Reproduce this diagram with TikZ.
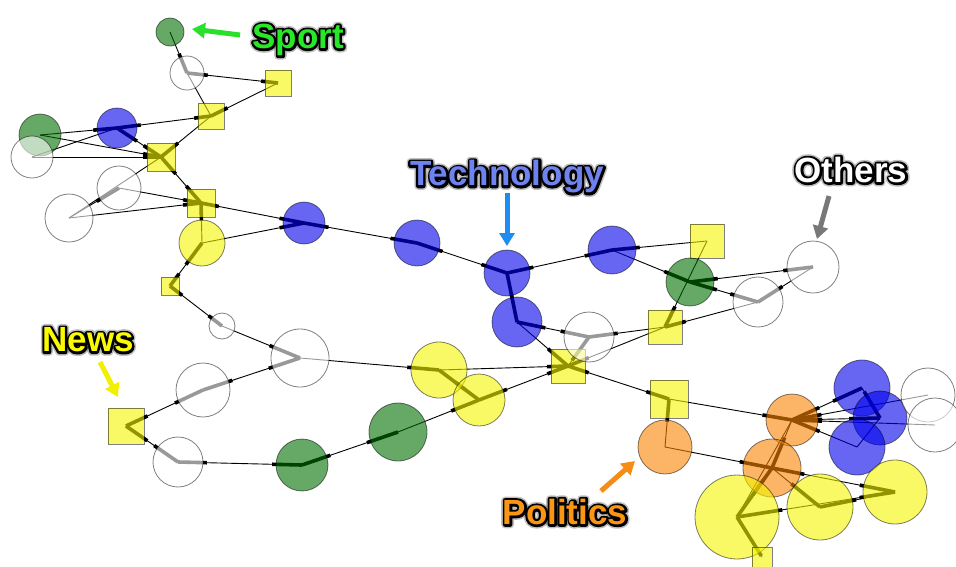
\documentclass[tikz,border=0pt]{standalone}
\usepackage{fontspec}
\newfontface\lblfont{Liberation Sans Bold}
\newfontface\lblrim{Liberation Sans Bold}[FakeBold=13]
\newfontface\lblhalo{Liberation Sans Bold}[FakeBold=22]
\usetikzlibrary{calc,arrows.meta}
\pgfdeclarelayer{bg}
\pgfdeclarelayer{edges}
\pgfsetlayers{bg,edges,main}

\definecolor{cgreen}{RGB}{0,110,0}
\definecolor{cblue}{RGB}{0,0,235}
\definecolor{cyellow}{RGB}{245,245,0}
\definecolor{corange}{RGB}{250,130,0}
\definecolor{tgreen}{RGB}{40,230,40}
\definecolor{tblue}{RGB}{110,130,240}
\definecolor{tyellow}{RGB}{250,250,0}
\definecolor{torange}{RGB}{250,150,20}
\definecolor{agreen}{RGB}{40,225,40}
\definecolor{ablue}{RGB}{30,140,240}
\definecolor{agrey}{RGB}{120,120,120}
\definecolor{ayellow}{RGB}{240,240,0}
\definecolor{aorange}{RGB}{245,140,20}

\tikzset{
  nd/.style={draw=black, draw opacity=0.5, line width=0.8pt, fill opacity=0.6, inner sep=0pt},
  circ/.style={nd, circle, minimum size=#1},
  sq/.style={nd, rectangle, minimum size=#1},
  gn/.style={circ=#1, fill=cgreen},
  bn/.style={circ=#1, fill=cblue},
  yn/.style={circ=#1, fill=cyellow},
  on/.style={circ=#1, fill=corange},
  wn/.style={circ=#1, fill=white},
  ys/.style={sq=#1, fill=cyellow},
  thinedge/.style={draw=black, line width=0.9pt},
  stubline/.style={draw=black, line width=3.6pt},
  lbl/.style={font=\lblfont\fontsize{35}{35}\selectfont, inner sep=0pt},
  lblrimstyle/.style={font=\lblrim\fontsize{35}{35}\selectfont, inner sep=0pt, text=black},
  lblhalostyle/.style={font=\lblhalo\fontsize{35}{35}\selectfont, inner sep=0pt, text=black, text opacity=0.25},
  pointer/.style={line width=5pt, -{Triangle[length=13pt,width=15pt]}}
}

% round joins for the stroked rim of the glyphs
\newcommand\roundrim{\special{pdf:literal direct 1 j 1 J}}

% thick end piece of a connector inside node #1, pointing at node #2
\newcommand\stub[2]{%
  \path (#1) -- (#2) coordinate[pos=0] (stA);
  \draw[stubline] (#1.center) -- ($(stA)!-3.5pt!(#1.center)$);
}

% caption text with a dark rim and a soft halo
\newcommand\biglabel[4]{%
  \node[lblhalostyle] (#1halo) at (#2) {\roundrim#4};
  \node[lblrimstyle] (#1rim) at (#2) {\roundrim#4};
  \node[lbl, text=#3] (#1) at (#2) {#4};
}

\begin{document}
\begin{tikzpicture}[x=1pt, y=-1pt]
\begin{pgfonlayer}{bg}
  \fill[white] (0,0) rectangle (956,566);
\end{pgfonlayer}
\useasboundingbox (0,0) rectangle (956,566);

% ---- nodes ----
\node[gn=28] (g1) at (170,32) {};
\node[wn=34] (w1) at (187,73) {};
\node[ys=26] (s1) at (278,83) {};
\node[ys=26] (s2) at (211,116) {};
\node[gn=42] (g2) at (40,135) {};
\node[wn=42] (w2) at (32,157) {};
\node[bn=40] (b1) at (117,128) {};
\node[ys=28] (s3) at (161,157) {};
\node[wn=44] (w3) at (119,188) {};
\node[wn=48] (w4) at (69,218) {};
\node[ys=28] (s4) at (201,203) {};
\node[yn=46] (y1) at (202,243) {};
\node[bn=42] (b2) at (304,223) {};
\node[ys=18] (s5) at (170,286) {};
\node[wn=26] (w5) at (222,326) {};
\node[wn=58] (w6) at (300,358) {};
\node[wn=54] (w7) at (203,390) {};
\node[ys=36] (s6) at (126,426) {};
\node[wn=50] (w8) at (178,462) {};
\node[gn=52] (g3) at (302,465) {};
\node[gn=58] (g4) at (398,432) {};
\node[yn=56] (y2) at (439,370) {};
\node[yn=52] (y3) at (479,400) {};
\node[ys=34] (s7) at (568,366) {};
\node[bn=46] (b3) at (417,243) {};
\node[bn=46] (b4) at (507,273) {};
\node[bn=50] (b5) at (517,322) {};
\node[wn=50] (w9) at (589,337) {};
\node[bn=48] (b6) at (612,250) {};
\node[ys=34] (s8) at (707,241) {};
\node[gn=48] (g5) at (690,282) {};
\node[ys=34] (s9) at (665,327) {};
\node[wn=50] (w10) at (758,302) {};
\node[wn=52] (w11) at (813,267) {};
\node[ys=38] (s10) at (669,399) {};
\node[on=54] (o1) at (665,447) {};
\node[on=52] (o2) at (792,420) {};
\node[on=58] (o3) at (772,468) {};
\node[bn=56] (b7) at (862,388) {};
\node[bn=54] (b8) at (880,418) {};
\node[bn=56] (b9) at (857,447) {};
\node[wn=54] (w12) at (928,395) {};
\node[wn=54] (w13) at (935,425) {};
\node[yn=84] (y4) at (737,517) {};
\node[yn=66] (y5) at (820,507) {};
\node[yn=64] (y6) at (895,492) {};
\node[ys=20] (s11) at (762,557) {};

% ---- connectors: from/to/thick end at from/thick end at to ----
\begin{pgfonlayer}{edges}
\foreach \a/\b/\sa/\sb in {
  g1/w1/0/1, w1/s2/0/0, w1/s1/1/1, s1/s2/0/1, b1/s2/1/1,
  g2/b1/0/1, w2/b1/0/0, g2/s3/0/1, w2/s3/0/1, b1/s3/1/1,
  s2/s3/0/1, w4/s3/0/0, s3/s4/1/1, w3/w4/1/0, w3/s4/0/1,
  w4/s4/0/1, s4/b2/1/1, s4/y1/1/0, y1/b2/0/1, y1/s5/1/1,
  s5/w5/1/1, w5/w6/0/1, b2/b3/1/1, w7/w6/1/1, s6/w7/1/1,
  s6/w8/1/1, w8/g3/1/1, g3/g4/1/1, g4/y3/0/1, w6/y2/0/1,
  y2/s7/0/1, y2/y3/1/1, y3/s7/1/1, b3/b4/1/1, b4/b6/1/1,
  b4/b5/1/1, b5/w9/1/1, b5/s7/0/1, b6/s8/1/0, b6/g5/0/1,
  s8/s9/0/1, g5/w11/1/1, g5/w10/1/1, w10/w11/1/0, s9/w10/1/0,
  w9/s9/1/0, s7/s9/1/0, w9/s7/1/0, s7/s10/1/1, s10/o2/0/1,
  s10/o1/1/0, o1/o3/0/1, o3/y6/1/1, o2/o3/0/1, o3/y4/1/1,
  o3/y5/0/1, y4/y6/1/1, y5/y6/1/0, y4/s11/1/0, y4/o2/0/0,
  o2/b7/1/1, o2/b8/1/1, o2/b9/1/0, o2/w12/1/0, o2/w13/1/0,
  b7/b8/0/1, b8/b9/0/0}
{
  \draw[thinedge] (\a.center) -- (\b.center);
  \ifnum\sa=1 \stub{\a}{\b}\fi
  \ifnum\sb=1 \stub{\b}{\a}\fi
}
\end{pgfonlayer}

% ---- captions ----
\biglabel{sport}{298,40}{tgreen}{Sport}
\biglabel{tech}{507,177}{tblue}{Technology}
\biglabel{others}{851,170}{white}{Others}
\biglabel{news}{88,340}{tyellow}{News}
\biglabel{politics}{565,512}{torange}{Politics}

\coordinate (sportTail) at (240,35);
\coordinate (sportTip) at (192,29);
\coordinate (techTail) at (507,193);
\coordinate (techTip) at (507,246);
\coordinate (othersTail) at (829,196);
\coordinate (othersTip) at (817,239);
\coordinate (newsTail) at (100,362);
\coordinate (newsTip) at (118,397);
\coordinate (polTail) at (601,491);
\coordinate (polTip) at (635,461);

\draw[pointer, agreen] (sportTail) -- (sportTip);
\draw[pointer, ablue] (techTail) -- (techTip);
\draw[pointer, agrey] (othersTail) -- (othersTip);
\draw[pointer, ayellow] (newsTail) -- (newsTip);
\draw[pointer, aorange] (polTail) -- (polTip);
\end{tikzpicture}
\end{document}
